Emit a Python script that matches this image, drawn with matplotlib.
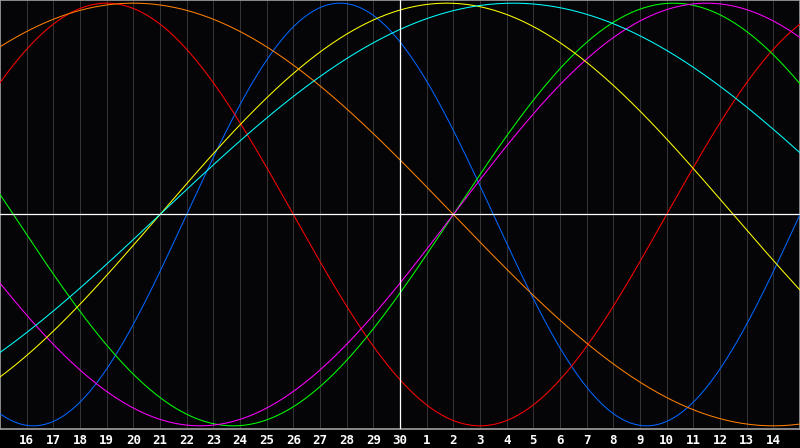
import numpy as np
import matplotlib.pyplot as plt

# biorhythm chart, 15th of one month to 15th of the next
day_labels = [str(d) for d in list(range(16, 31)) + list(range(1, 15))]
cycle_names = ["physical", "emotional", "intellectual", "intuitive",
               "aesthetic", "awareness", "spiritual"]
cycle_days = [23, 28, 33, 38, 43, 48, 53]
cycle_colors = ["#0066ff", "#ff0000", "#00ff00", "#ff00ff",
                "#ffff00", "#ff8000", "#00ffff"]
days_alive_at_start = 25063   # days since birth at the left edge
today_index = 15              # the 30th


def main():
    fig = plt.figure(figsize=(8, 4.48), dpi=100, facecolor="black")
    ax = fig.add_axes([0, 19 / 448, 1, 429 / 448])
    ax.set_facecolor("#050508")

    n_days = len(day_labels) + 1
    x = np.linspace(0, n_days, 1201)
    for name, period, color in zip(cycle_names, cycle_days, cycle_colors):
        y = np.sin(2 * np.pi * (days_alive_at_start + x) / period)
        ax.plot(x, y, color=color, lw=0.75, zorder=3, label=name)

    for i in range(1, n_days):
        if i != today_index:
            ax.axvline(i, color="#333333", lw=0.75, zorder=1)
    ax.axvline(today_index, color="white", lw=0.9, zorder=5)
    ax.axhline(0, color="white", lw=0.9, zorder=5)

    ax.set_xlim(0, n_days)
    ax.set_ylim(-1.015, 1.015)
    ax.set_yticks([])
    ax.set_xticks(range(1, n_days))
    ax.set_xticklabels(day_labels, color="white", fontsize=9,
                       fontfamily="DejaVu Sans Mono", fontweight="bold")
    ax.tick_params(axis="x", length=0, pad=3.5)
    for s in ax.spines.values():
        s.set_color("#a0a0a0")
        s.set_linewidth(1.2)

    fig.savefig("out.png", dpi=100, facecolor="black")


if __name__ == '__main__':
    main()
